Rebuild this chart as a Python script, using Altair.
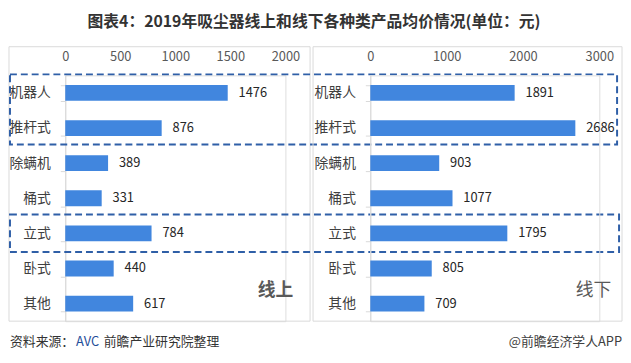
import altair as alt
import pandas as pd

categories = ["机器人", "推杆式", "除螨机", "桶式", "立式", "卧式", "其他"]
online_price = [1476, 876, 389, 331, 784, 440, 617]
offline_price = [1891, 2686, 903, 1077, 1795, 805, 709]
online_ticks = [0, 500, 1000, 1500, 2000]
offline_ticks = [0, 1000, 2000, 3000]
online_max = 2000
offline_max = 3000

title_text = "图表4：2019年吸尘器线上和线下各种类产品均价情况(单位：元)"
source_parts = ["资料来源：", "AVC", "前瞻产业研究院整理"]
brand_text = "@前瞻经济学人APP"

FONT = "Noto Sans CJK SC"
BAR = "#4186DE"
DASH = "#2F5FA7"
FRAME = "#D9D9D9"
W1, W2, H = 223, 232, 249

one = pd.DataFrame({"k": [0]})


def rect(x, x2, y, y2, **kw):
    return alt.Chart(one).mark_rect(**kw).encode(
        x=alt.value(x), x2=alt.value(x2), y=alt.value(y), y2=alt.value(y2)
    )


def note(text, x, y, **kw):
    return alt.Chart(one).mark_text(font=FONT, **kw).encode(
        x=alt.value(x), y=alt.value(y), text=alt.value(text)
    )


def panel(values, ticks, xmax, width, frame_x, extra):
    df = pd.DataFrame({"cat": categories, "v": values})
    yenc = alt.Y(
        "cat:N", sort=categories, title=None,
        scale=alt.Scale(paddingInner=0.55, paddingOuter=0.275),
        axis=alt.Axis(orient="left", domainColor=FRAME, tickColor=FRAME,
                      tickBand="extent", tickSize=5, labelPadding=10,
                      labelFontSize=14, labelColor="#404040", labelFont=FONT),
    )
    xenc = alt.X(
        "v:Q", title=None,
        scale=alt.Scale(domain=[0, xmax], nice=False),
        axis=alt.Axis(orient="top", values=ticks, domain=False, ticks=False,
                      grid=False, labelPadding=12, labelFontSize=13,
                      labelColor="#595959", labelFont=FONT, format="d",
                      labelFlush=False, labelOverlap=False),
    )
    frame = rect(frame_x[0], frame_x[1], -29, H, fillOpacity=0,
                 stroke=FRAME, strokeWidth=1)
    bars = alt.Chart(df).mark_bar(color=BAR).encode(x=xenc, y=yenc)
    labels = alt.Chart(df).mark_text(
        align="left", baseline="middle", dx=11, fontSize=13,
        color="#262626", font=FONT
    ).encode(x="v:Q", y=alt.Y("cat:N", sort=categories),
             text=alt.Text("v:Q", format="d"))
    return alt.layer(frame, bars, labels, *extra).properties(width=width, height=H)


left_extra = [
    rect(-56, 559, -1, 70, fillOpacity=0, stroke=DASH, strokeWidth=2,
         strokeDash=[7, 4]),
    rect(-56, 561, 141, 179, fillOpacity=0, stroke=DASH, strokeWidth=2,
         strokeDash=[7, 4]),
    note("线上", 213, 219, fontSize=18, fontWeight="bold", color="#595959",
         align="center", baseline="middle"),
    note(title_text, 252, -54, fontSize=16, fontWeight="bold",
         color="#333333", align="center", baseline="middle"),
    note(source_parts[0], -56, 270, fontSize=13, color="#333333",
         align="left", baseline="middle"),
    note(source_parts[1], 11, 270, fontSize=13, color="#1F4E9A",
         align="left", baseline="middle"),
    note(source_parts[2], 39, 270, fontSize=13, color="#333333",
         align="left", baseline="middle"),
]
right_extra = [
    note("线下", 226, 219, fontSize=18, color="#595959",
         align="center", baseline="middle"),
    note(brand_text, 255, 270, fontSize=13, color="#404040",
         align="right", baseline="middle"),
]

left = panel(online_price, online_ticks, online_max, W1, (-57, 248), left_extra)
right = panel(offline_price, offline_ticks, offline_max, W2, (-58, 255), right_extra)

chart = alt.hconcat(left, right, spacing=86, bounds="flush").properties(
    padding={"left": 0, "top": 3, "right": 0, "bottom": 0}
).configure_view(strokeWidth=0).configure(font=FONT)

chart.save("out.html", embed_options={"renderer": "svg", "actions": False})
